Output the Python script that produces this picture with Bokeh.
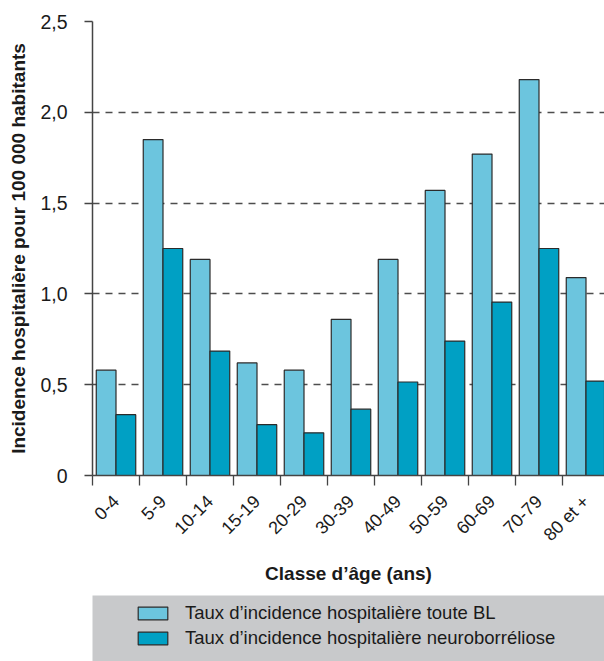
import numpy as np
from bokeh.plotting import figure
from bokeh.layouts import column, row
from bokeh.models import FixedTicker, Legend, LegendItem, Range1d, Spacer
from bokeh.embed import file_html
from bokeh.resources import INLINE

# ---- data ----
categories = ["0-4", "5-9", "10-14", "15-19", "20-29", "30-39",
              "40-49", "50-59", "60-69", "70-79", "80 et +"]
toute_bl = [0.58, 1.85, 1.19, 0.62, 0.58, 0.86, 1.19, 1.57, 1.77, 2.18, 1.09]
neuroborreliose = [0.335, 1.25, 0.685, 0.28, 0.235, 0.365, 0.515, 0.74, 0.955, 1.25, 0.52]
y_ticks = [0, 0.5, 1.0, 1.5, 2.0, 2.5]
y_tick_labels = ["0", "0,5", "1,0", "1,5", "2,0", "2,5"]
series_labels = ["Taux d’incidence hospitalière toute BL",
                 "Taux d’incidence hospitalière neuroborréliose"]
x_title = "Classe d’âge (ans)"
y_title = "Incidence hospitalière pour 100 000 habitants"

FONT = "'Liberation Sans', Arial, sans-serif"
LIGHT = "#6cc5de"
DARK = "#00a0c4"
EDGE = "#2b2b2b"
AXIS = "#444444"
TEXT = "#1a1a1a"
GRAY = "#c8c9cb"

n = len(categories)
centers = np.arange(n) + 0.5
bar_w = 0.42

p = figure(width=604, height=595, output_backend="svg", toolbar_location=None,
           x_range=Range1d(0, 512 / 47), y_range=Range1d(0, 2.5),
           min_border_left=92, min_border_right=0, min_border_top=21,
           min_border_bottom=120)
p.outline_line_color = None

r1 = p.vbar(x=centers - bar_w / 2, top=toute_bl, width=bar_w,
            fill_color=LIGHT, line_color=EDGE, line_width=1.2)
r2 = p.vbar(x=centers + bar_w / 2, top=neuroborreliose, width=bar_w,
            fill_color=DARK, line_color=EDGE, line_width=1.2)

# grid
p.xgrid.visible = False
p.ygrid.ticker = FixedTicker(ticks=y_ticks[1:])
p.ygrid.grid_line_color = "#4d4d4d"
p.ygrid.grid_line_dash = "7 6"
p.ygrid.grid_line_width = 1.3

# y axis
ya = p.yaxis[0]
ya.ticker = FixedTicker(ticks=y_ticks)
ya.major_label_overrides = {t: l for t, l in zip(y_ticks, y_tick_labels)}
ya.major_tick_out = 8
ya.major_tick_in = 0
ya.minor_tick_line_color = None
ya.major_tick_line_color = AXIS
ya.major_tick_line_width = 1.3
ya.axis_line_color = AXIS
ya.axis_line_width = 1.5
ya.major_label_standoff = 17
ya.major_label_text_font = FONT
ya.major_label_text_font_size = "19.5px"
ya.major_label_text_color = TEXT
ya.axis_label = y_title
ya.axis_label_text_font = FONT
ya.axis_label_text_font_style = "bold"
ya.axis_label_text_font_size = "19px"
ya.axis_label_text_color = TEXT
ya.axis_label_standoff = 8

# x axis
xa = p.xaxis[0]
xa.ticker = FixedTicker(ticks=list(centers), minor_ticks=list(range(n + 1)))
xa.major_label_overrides = {float(c): lab for c, lab in zip(centers, categories)}
xa.major_tick_line_color = None
xa.major_tick_out = 10
xa.major_tick_in = 0
xa.minor_tick_out = 10
xa.minor_tick_in = 0
xa.minor_tick_line_color = AXIS
xa.minor_tick_line_width = 1.3
xa.axis_line_color = AXIS
xa.axis_line_width = 1.5
xa.major_label_orientation = np.pi / 4
xa.major_label_standoff = 13
xa.major_label_text_font = FONT
xa.major_label_text_font_size = "18px"
xa.major_label_text_color = TEXT
xa.axis_label = x_title
xa.axis_label_text_font = FONT
xa.axis_label_text_font_style = "bold"
xa.axis_label_text_font_size = "19px"
xa.axis_label_text_color = TEXT
xa.axis_label_standoff = 8

# legend panel (data kept out of view; only the legend is shown)
p2 = figure(width=512, height=66, output_backend="svg", toolbar_location=None,
            x_range=Range1d(0, 1), y_range=Range1d(10, 11),
            background_fill_color=GRAY, border_fill_color=GRAY,
            min_border=0, outline_line_color=None)
p2.axis.visible = False
p2.grid.visible = False
d1 = p2.vbar(x=centers, top=toute_bl, width=bar_w,
             fill_color=LIGHT, line_color=EDGE, line_width=1.2)
d2 = p2.vbar(x=centers, top=neuroborreliose, width=bar_w,
             fill_color=DARK, line_color=EDGE, line_width=1.2)
legend = Legend(items=[LegendItem(label=series_labels[0], renderers=[d1]),
                       LegendItem(label=series_labels[1], renderers=[d2])],
                location=(42, 12), orientation="vertical",
                background_fill_alpha=0, border_line_color=None,
                margin=0, padding=0, spacing=3,
                glyph_width=37, glyph_height=16, label_standoff=14,
                label_height=20, label_text_font=FONT,
                label_text_font_size="18.5px", label_text_color=TEXT)
p2.add_layout(legend, "center")

layout = column(p, row(Spacer(width=92, height=66), p2))

with open("out.html", "w") as f:
    f.write(file_html(layout, INLINE))
